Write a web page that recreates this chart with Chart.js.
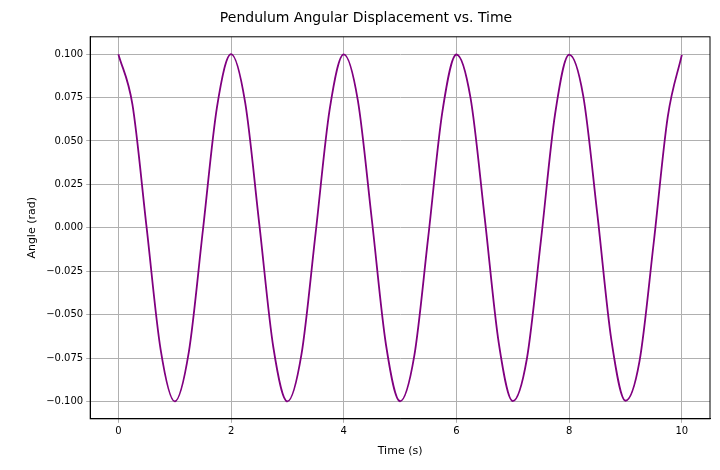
<!DOCTYPE html>
<html><head><meta charset="utf-8">
<script src="https://cdn.jsdelivr.net/npm/chart.js@4/dist/chart.umd.min.js"></script>
<style>body{margin:0;background:#fff}#w{width:720px;height:470px}</style>
</head><body><div id="w"><canvas id="c"></canvas></div>
<script>
const times=[0,0.25,0.5,0.75,1,1.25,1.5,1.75,2,2.25,2.5,2.75,3,3.25,3.5,3.75,4,4.25,4.5,4.75,5,5.25,5.5,5.75,6,6.25,6.5,6.75,7,7.25,7.5,7.75,8,8.25,8.5,8.75,9,9.25,9.5,9.75,10];
const angles=[0.1,0.0709,0.0005,-0.0702,-0.1,-0.0716,-0.0014,0.0695,0.1,0.0722,0.0024,-0.0688,-0.1,-0.0728,-0.0032,0.0682,0.0999,0.0734,0.0042,-0.0675,-0.0999,-0.0741,-0.0051,0.0668,0.0998,0.0748,0.0062,-0.0661,-0.0998,-0.0754,-0.0071,0.0654,0.0997,0.076,0.008,-0.0647,-0.0996,-0.0766,-0.0089,0.0639,0.0996];
const xTicks=[0,2,4,6,8,10];
const yTicks=[-0.1,-0.075,-0.05,-0.025,0,0.025,0.05,0.075,0.1];
Chart.defaults.font.family='DejaVu Sans';Chart.defaults.color='#000';
const box={id:'box',afterDraw(c){const a=c.chartArea,x=c.ctx;x.save();x.strokeStyle='#000';x.lineWidth=1;x.strokeRect(a.left,a.top,a.right-a.left,a.bottom-a.top);x.restore();}};
new Chart(document.getElementById('c'),{type:'line',plugins:[box],
data:{datasets:[{data:times.map((t,i)=>({x:t,y:angles[i]})),borderColor:'#800080',borderWidth:1.8,pointRadius:0,cubicInterpolationMode:'monotone'}]},
options:{responsive:true,maintainAspectRatio:false,animation:false,
layout:{padding:{left:22,right:10,top:8,bottom:8}},
plugins:{legend:{display:false},title:{display:true,text:'Pendulum Angular Displacement vs. Time',font:{size:14,weight:'normal'},padding:{top:2,bottom:10}}},
scales:{
x:{type:'linear',min:-0.5,max:10.5,afterBuildTicks:a=>{a.ticks=xTicks.map(v=>({value:v}))},
ticks:{font:{size:10},callback:v=>String(v)},grid:{color:'#b0b0b0',tickLength:4},border:{color:'#000'},
title:{display:true,text:'Time (s)',font:{size:11}}},
y:{min:-0.11,max:0.11,afterBuildTicks:a=>{a.ticks=yTicks.map(v=>({value:v}))},
ticks:{font:{size:10},callback:v=>(v<0?'\u2212':'')+Math.abs(v).toFixed(3)},grid:{color:'#b0b0b0',tickLength:4},border:{color:'#000'},
title:{display:true,text:'Angle (rad)',font:{size:11}}}
}}});
</script></body></html>
